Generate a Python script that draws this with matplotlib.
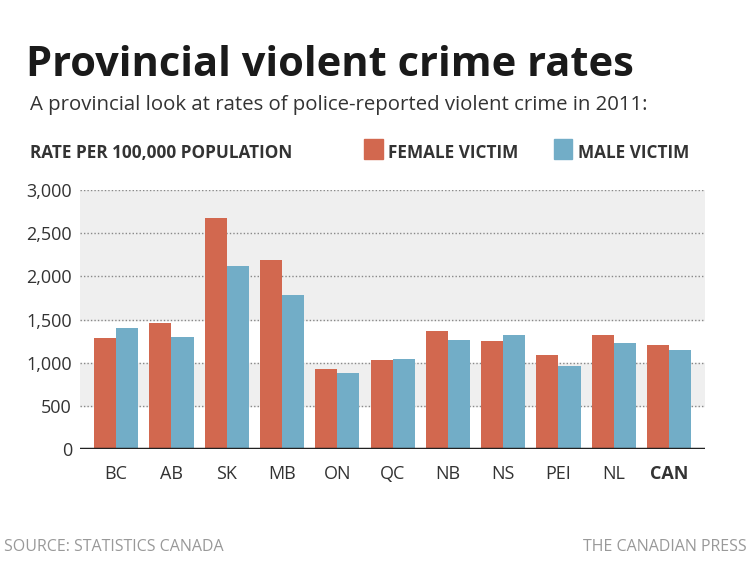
import matplotlib.pyplot as plt
import numpy as np

provinces = ["BC", "AB", "SK", "MB", "ON", "QC", "NB", "NS", "PEI", "NL", "CAN"]
female = [1290, 1460, 2680, 2185, 925, 1035, 1370, 1255, 1090, 1325, 1205]
male = [1405, 1295, 2125, 1785, 875, 1045, 1265, 1320, 960, 1230, 1145]

red = "#d2684f"
blue = "#72adc7"

plt.rcParams["font.family"] = ["Open Sans", "DejaVu Sans"]
fig = plt.figure(figsize=(7.5, 5.63), dpi=100)
ax = fig.add_axes([0.107, 0.203, 0.833, 0.459])

x = np.arange(len(provinces))
w = 0.4
ax.bar(x - w / 2, female, w, color=red, zorder=3)
ax.bar(x + w / 2, male, w, color=blue, zorder=3)

ax.set_xlim(-0.65, len(provinces) - 0.35)
ax.set_ylim(0, 3000)
ax.axhspan(1500, 3000, color="#efefef", zorder=0)
ax.axhspan(500, 1000, color="#efefef", zorder=0)
for v in range(500, 3001, 500):
    ax.axhline(v, color="#888888", linestyle=(0, (1, 1.5)), linewidth=1, zorder=1)
ax.axhline(0, color="#222222", linewidth=2.5, zorder=4)

ax.set_yticks(range(0, 3001, 500))
ax.set_yticklabels([f"{v:,}" for v in range(0, 3001, 500)], fontsize=13, color="#333333")
ax.set_xticks(x)
ax.set_xticklabels(provinces, fontsize=13, color="#333333")
ax.get_xticklabels()[-1].set_fontweight("bold")
ax.tick_params(length=0, pad=12)
ax.tick_params(axis="y", pad=6)
for s in ax.spines.values():
    s.set_visible(False)

fig.text(0.035, 0.865, "Provincial violent crime rates", fontsize=30, fontweight="bold", color="#1a1a1a")
fig.text(0.04, 0.805, "A provincial look at rates of police-reported violent crime in 2011:", fontsize=14.7, color="#333333")
fig.text(0.04, 0.72, "RATE PER 100,000 POPULATION", fontsize=12.3, fontweight="bold", color="#333333")
fig.patches.append(plt.Rectangle((0.485, 0.717), 0.025, 0.036, transform=fig.transFigure, color=red))
fig.text(0.518, 0.72, "FEMALE VICTIM", fontsize=12.3, fontweight="bold", color="#333333")
fig.patches.append(plt.Rectangle((0.738, 0.717), 0.025, 0.036, transform=fig.transFigure, color=blue))
fig.text(0.771, 0.72, "MALE VICTIM", fontsize=12.3, fontweight="bold", color="#333333")
fig.text(0.005, 0.022, "SOURCE: STATISTICS CANADA", fontsize=11.5, color="#999999")
fig.text(0.995, 0.022, "THE CANADIAN PRESS", fontsize=11.5, color="#999999", ha="right")

fig.savefig("out.png", dpi=100)
